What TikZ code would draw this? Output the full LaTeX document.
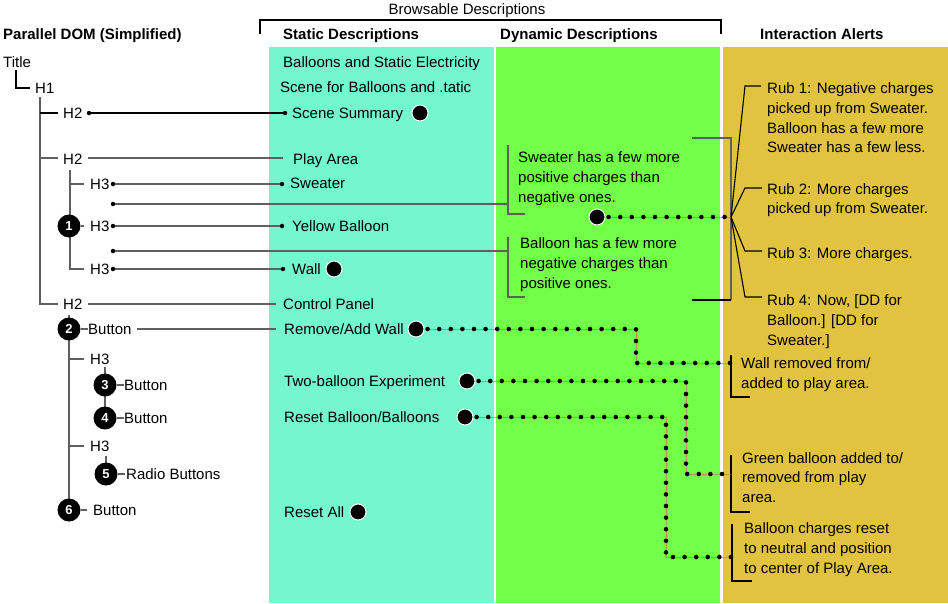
\documentclass[tikz,border=0pt]{standalone}
\usepackage{fontspec}
\setmainfont{Liberation Sans}
\definecolor{staticc}{RGB}{116,247,204}
\definecolor{dync}{RGB}{114,255,72}
\definecolor{alertc}{RGB}{226,195,64}
\definecolor{lgray}{RGB}{95,95,95}
\definecolor{dline}{RGB}{200,120,90}
\begin{document}
\begin{tikzpicture}[x=1pt,y=-1pt,
  txt/.style={anchor=base west,inner sep=0pt,font=\fontsize{15}{19.7}\selectfont},
  blk/.style={anchor=west,inner sep=0pt,align=left,font=\fontsize{15}{19.7}\selectfont},
  hdr/.style={anchor=base west,inner sep=0pt,font=\bfseries\fontsize{15}{17}\selectfont},
  tl/.style={draw=lgray,line width=1.3pt},
  bl/.style={draw=black,line width=1.1pt},
  sdot/.style={circle,fill=black,inner sep=0pt,minimum size=4.5pt},
  bigdot/.style={circle,fill=black,draw=white,line width=1pt,inner sep=0pt,minimum size=16pt},
  badge/.style={circle,fill=black,text=white,inner sep=0pt,minimum size=23pt,font=\bfseries\fontsize{13}{13}\selectfont},
  dotline/.style={draw=black,line width=4.6pt,line cap=round,dash pattern=on 0pt off 11.6pt},
  dunder/.style={draw=dline,line width=0.6pt,opacity=0.7}]
\useasboundingbox (0,0) rectangle (948,603);
\fill[white] (0,0) rectangle (948,603);
% columns
\fill[staticc] (269,47) rectangle (494,603);
\fill[dync] (496,47) rectangle (720,603);
\fill[alertc] (723,47) rectangle (948,603);
% headers
\node[anchor=base,inner sep=0pt,font=\fontsize{15}{17}\selectfont] (hbrow) at (467,14) {Browsable Descriptions};
\draw[black,line width=1.5pt] (260,34) -- (260,20) -- (721,20) -- (721,34);
\node[hdr] (hdom) at (3,39) {Parallel DOM (Simplified)};
\node[hdr] (hstat) at (283,39) {Static Descriptions};
\node[hdr] (hdyn) at (500,39) {Dynamic Descriptions};
\node[hdr] (halert) at (760,39) {Interaction Alerts};
% tree texts
\node[txt] (title) at (3,67) {Title};
\node[txt] (h1) at (35,93) {H1};
\node[txt] (h2a) at (63,118) {H2};
\node[txt] (h2b) at (63,164) {H2};
\node[txt] (h3a) at (90,189) {H3};
\node[txt] (h3b) at (90,231) {H3};
\node[txt] (h3c) at (90,274) {H3};
\node[txt] (h2c) at (63,309) {H2};
\node[txt] (btn2) at (88,334) {Button};
\node[txt] (h3d) at (90,364) {H3};
\node[txt] (btn3) at (124,390) {Button};
\node[txt] (btn4) at (124,423) {Button};
\node[txt] (h3e) at (90,451) {H3};
\node[txt] (radio) at (126,479) {Radio Buttons};
\node[txt] (btn6) at (93,515) {Button};
% tree skeleton
\draw[bl] (16,70) |- (30,88);
\draw[tl] (40,97) |- (58,304);
\draw[bl] (40,113) -- (58,113);
\draw[tl] (40,158) -- (58,158);
\draw[tl] (70,170) |- (84,269);
\draw[tl] (70,184) -- (84,184);
\draw[tl] (69,315) -- (69,505);
\draw[tl] (69,359) -- (84,359);
\draw[tl] (69,446) -- (84,446);
\draw[tl] (105,367) -- (105,418);
\draw[tl] (106,456) -- (106,474);
% badges
\node[badge] (b1) at (69,226) {1};
\node[badge] (b2) at (69,329) {2};
\node[badge] (b3) at (105,385) {3};
\node[badge] (b4) at (105,418) {4};
\node[badge] (b5) at (106,474) {5};
\node[badge] (b6) at (69,510) {6};
\draw[tl] (b1.east) -- (84,226);
\draw[tl] (b2.east) -- (btn2.west |- b2);
\draw[tl] (b3.east) -- (btn3.west |- b3);
\draw[tl] (b4.east) -- (btn4.west |- b4);
\draw[tl] (b5.east) -- (125,474);
\draw[tl] (b6.east) -- (87,510);
% static texts
\node[txt] (s1) at (283,67) {Balloons and Static Electricity};
\node[txt] (s2) at (280,92) {Scene for Balloons and .tatic};
\node[txt] (sss) at (292,118) {Scene Summary};
\node[txt] (spa) at (293,164) {Play Area};
\node[txt] (ssw) at (290,188) {Sweater};
\node[txt] (syb) at (292,231) {Yellow Balloon};
\node[txt] (swall) at (292,274) {Wall};
\node[txt] (scp) at (283,309) {Control Panel};
\node[txt] (srw) at (284,334) {Remove/Add Wall};
\node[txt] (stb) at (284,386) {Two-balloon Experiment};
\node[txt] (srb) at (284,422) {Reset Balloon/Balloons};
\node[txt] (sra) at (284,517) {Reset All};
% small dots and connectors
\node[sdot] (t1) at (89,113) {};
\node[sdot] (t1e) at (285,113) {};
\draw[bl] (t1) -- (t1e);
\node[sdot] (t2) at (113,184) {};
\node[sdot] (t2e) at (282,184) {};
\draw[tl] (t2) -- (t2e);
\node[sdot] (t3) at (113,204) {};
\node[sdot] (t4) at (113,226) {};
\node[sdot] (t4e) at (282,226) {};
\draw[tl] (t4) -- (t4e);
\node[sdot] (t5) at (113,251) {};
\node[sdot] (t6) at (113,269) {};
\node[sdot] (t6e) at (283,269) {};
\draw[tl] (t6) -- (t6e);
\draw[tl] (88,158) -- (283,158);
\draw[tl] (88,304) -- (276,304);
\draw[tl] (137,329) -- (276,329);
% dynamic texts and brackets
\node[blk] (dsw) at (518,178.5) {Sweater has a few more\\positive charges than\\negative ones.};
\node[blk] (dbl) at (520,264.5) {Balloon has a few more\\negative charges than\\positive ones.};
\coordinate (k1) at (508,204);
\coordinate (k2) at (508,251);
\draw[tl] (t3) -- (k1);
\draw[tl] (t5) -- (k2);
\draw[tl] (508,145) -- (508,214) -- (525,214);
\draw[tl] (508,237) -- (508,297) -- (525,297);
\draw[tl] (692,138) -- (731,138) -- (731,300);
\draw[bl] (731,300) -- (692,300);
% alerts
\node[blk] (r1) at (767,118) {Rub 1: Negative charges\\picked up from Sweater.\\Balloon has a few more\\Sweater has a few less.};
\node[blk] (r2) at (767,200) {Rub 2: More charges\\picked up from Sweater.};
\node[txt] (r3) at (767,258) {Rub 3: More charges.};
\node[blk] (r4) at (767,321.5) {Rub 4: Now, [DD for\\Balloon.] [DD for\\Sweater.]};
\node[blk] (a1) at (741,374.5) {Wall removed from/\\added to play area.};
\node[blk] (a2) at (742,477.5) {Green balloon added to/\\removed from play\\area.};
\node[blk] (a3) at (744,549.5) {Balloon charges reset\\to neutral and position\\to center of Play Area.};
\coordinate (hub) at (731,217);
\draw[bl] (hub) -- (745,86) -- (761,86);
\draw[bl] (hub) -- (745,188) -- (762,188);
\draw[bl] (hub) -- (745,251) -- (762,251);
\draw[bl] (hub) -- (745,297) -- (762,297);
\draw[bl] (731,355) -- (731,397) -- (750,397);
\draw[bl] (731,455) -- (731,512) -- (750,512);
\draw[bl] (732,524) -- (732,581) -- (752,581);
% dotted links
\coordinate (e0) at (731,217);
\coordinate (e1) at (731,363);
\coordinate (e2) at (731,474);
\coordinate (e3) at (732,557);
\coordinate (gd) at (597,217);
\coordinate (g1) at (416,329);
\coordinate (g2) at (467,381);
\coordinate (g3) at (465,417);
\draw[dunder] (gd) -- (e0);
\draw[dunder] (g1) -- (636,329) -- (636,363) -- (e1);
\draw[dunder] (g2) -- (686,381) -- (686,474) -- (e2);
\draw[dunder] (g3) -- (666,417) -- (666,557) -- (e3);
\draw[dotline] (gd) -- (e0);
\draw[dotline] (g1) -- (636,329) -- (636,363) -- (e1);
\draw[dotline] (g2) -- (686,381) -- (686,474) -- (e2);
\draw[dotline] (g3) -- (666,417) -- (666,557) -- (e3);
% big dots
\node[bigdot] (bss) at (420,113) {};
\node[bigdot] (bwall) at (334,269) {};
\node[bigdot] (bdyn) at (gd) {};
\node[bigdot] (brw) at (g1) {};
\node[bigdot] (btb) at (g2) {};
\node[bigdot] (brb) at (g3) {};
\node[bigdot] (bra) at (358,512) {};
\end{tikzpicture}
\end{document}
